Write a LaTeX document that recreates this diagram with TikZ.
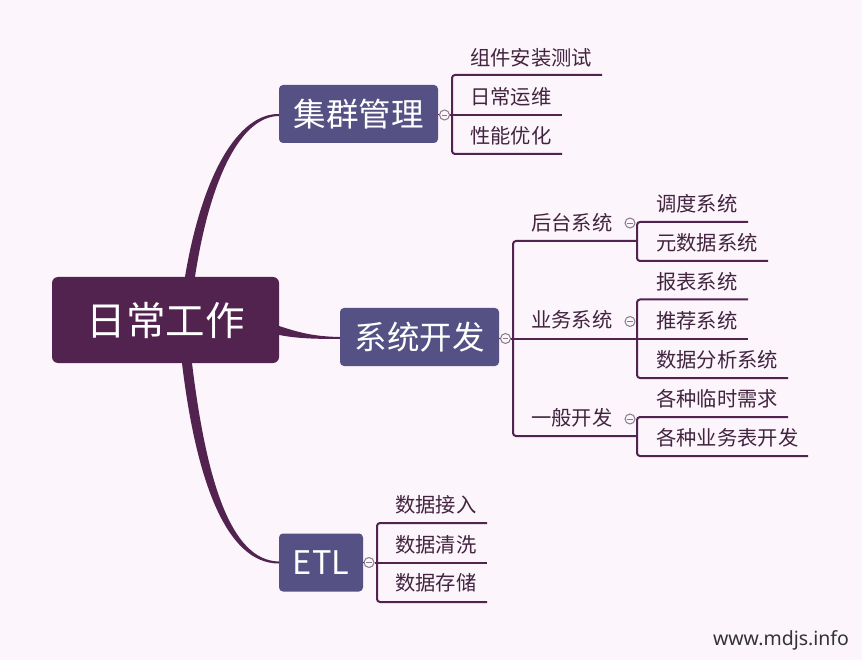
\documentclass[tikz,border=0pt]{standalone}
\usepackage{fontspec}
\setmainfont{Noto Sans CJK SC}
\newfontfamily\wmfont{Noto Sans}
\usetikzlibrary{calc}
\definecolor{bg}{HTML}{FCF5FC}
\definecolor{rootc}{HTML}{532350}
\definecolor{lvc}{HTML}{555184}
\definecolor{lc}{HTML}{532350}
\definecolor{tc}{HTML}{42243F}
\definecolor{cc}{HTML}{8A7A8A}
\tikzset{
  rootbox/.style={rectangle, rounded corners=6, fill=rootc, text=white, minimum width=227, minimum height=86, inner sep=0, font=\fontsize{39.5}{40}\selectfont},
  lvbox/.style={rectangle, rounded corners=4, fill=lvc, text=white, minimum height=58, inner sep=0, font=\fontsize{32.5}{33}\selectfont},
  leaf/.style={anchor=west, inner sep=0, text=tc, font=\fontsize{20.3}{21}\selectfont},
  br/.style={draw=lc, line width=2, rounded corners=3},
  circ/.style={circle, draw=cc, fill=bg, line width=1, minimum size=10, inner sep=0,
    path picture={\draw[cc, line width=0.9] ([xshift=2.2]path picture bounding box.west) -- ([xshift=-2.2]path picture bounding box.east);}},
  taper/.style={fill=lc, draw=none}
}
\begin{document}
\begin{tikzpicture}[x=1pt,y=-1pt]
\fill[bg] (0,0) rectangle (862,660);
\useasboundingbox (0,0) rectangle (862,660);

% main nodes
\node[rootbox] (root) at (165.5,320) {日常工作};
\node[lvbox, minimum width=159] (jq) at (358.5,114) {集群管理};
\node[lvbox, minimum width=159] (xt) at (419.5,337) {系统开发};
\node[lvbox, minimum width=84] (etl) at (321,562.5) {ETL};

% tapered connectors
\fill[taper] ($(root.north)+(19.5,0)$) .. controls (202,175) and (238,113.5) .. ($(jq.west)+(0,0)$)
   -- ($(jq.west)+(0,2)$) .. controls (241,116.5) and (210,178) .. ($(root.north)+(29.5,0)$) -- cycle;
\fill[taper] ($(root.east)+(0,6)$) .. controls (300,333) and (315,336.5) .. ($(xt.west)+(0,0)$)
   -- ($(xt.west)+(0,2)$) .. controls (310,339) and (295,338) .. ($(root.east)+(0,15)$) -- cycle;
\fill[taper] ($(root.south)+(16.5,0)$) .. controls (196,480) and (226,563.5) .. ($(etl.west)+(0,1)$)
   -- ($(etl.west)+(0,-1)$) .. controls (230,560.5) and (206,478) .. ($(root.south)+(26.5,0)$) -- cycle;

% ---- 集群管理 ----
\node[circ] (c1) at (444.5,115) {};
\draw[lc, line width=1] (jq.east |- c1) -- (c1.west);
\coordinate (b1t) at (452,75);
\coordinate (b1b) at (452,154);
\node[leaf] (j1) at (470,58) {组件安装测试};
\node[leaf] (j2) at (470,97) {日常运维};
\node[leaf] (j3) at (470,136) {性能优化};
\draw[br] (b1t -| 602,0) -- (b1t) -- (b1b) -- (b1b -| 562,0);
\draw[br] (c1.east) -- (562,115);

% ---- 系统开发 ----
\node[circ] (c2) at (505.5,338.5) {};
\draw[lc, line width=1] (xt.east |- c2) -- (c2.west);
\coordinate (b2t) at (513,241);
\coordinate (b2b) at (513,436);
\draw[br] (637,241) -- (b2t) -- (b2b) -- (637,436);
\draw[br] (c2.east) -- (748,338.5);

\node[leaf] (h) at (531,223) {后台系统};
\node[leaf] (y) at (531,320) {业务系统};
\node[leaf] (g) at (531,418) {一般开发};
\node[circ] (ch) at (630,223) {};
\node[circ] (cy) at (630,321.5) {};
\node[circ] (cg) at (630,419) {};

\node[leaf] (h1) at (656,204) {调度系统};
\node[leaf] (h2) at (656,243) {元数据系统};
\draw[br] (748,222) -- (637,222) -- (637,261) -- (768,261);

\node[leaf] (y1) at (656,282) {报表系统};
\node[leaf] (y2) at (656,321) {推荐系统};
\node[leaf] (y3) at (656,360) {数据分析系统};
\draw[br] (748,299.5) -- (637,299.5) -- (637,378) -- (788,378);

\node[leaf] (g1) at (656,399) {各种临时需求};
\node[leaf] (g2) at (656,438) {各种业务表开发};
\draw[br] (788,417) -- (637,417) -- (637,456) -- (808,456);

% ---- ETL ----
\node[circ] (c3) at (369,562.5) {};
\draw[lc, line width=1] (etl.east |- c3) -- (c3.west);
\node[leaf] (e1) at (395,505) {数据接入};
\node[leaf] (e2) at (395,545) {数据清洗};
\node[leaf] (e3) at (395,583) {数据存储};
\draw[br] (487,523) -- (377,523) -- (377,602) -- (487,602);
\draw[br] (c3.east) -- (487,562.5);

% watermark
\node[anchor=center, inner sep=0, text=black!80, font=\wmfont\fontsize{19.5}{21}\selectfont] (wm) at (781,640) {www.mdjs.info};
\end{tikzpicture}
\end{document}
